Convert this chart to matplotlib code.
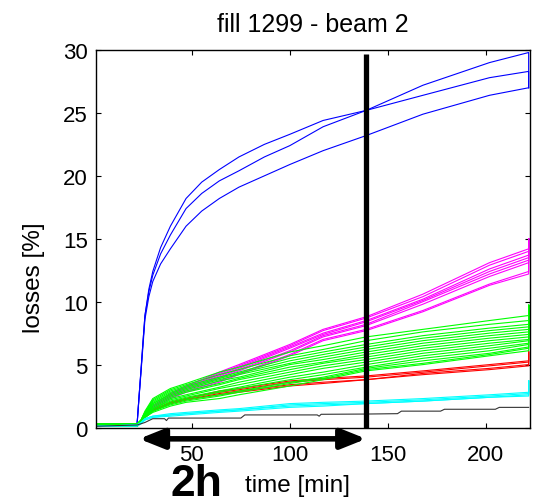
"""
Losses vs time for fill 1299, beam 2 (per collimator family).
"""

import matplotlib.pyplot as plt
from matplotlib.transforms import blended_transform_factory

plt.rcParams['font.family'] = ['Liberation Sans', 'DejaVu Sans']

# blue curves have their own, finer time base (fast ramp)
T_BLUE = [1, 22, 23, 24, 25, 26, 28, 30, 34, 39, 47, 55, 64, 74, 87, 100,
          117, 139, 168, 202, 222, 222]
BLUE = [
    [0.3, 0.3, 2.5, 4.6, 6.8, 8.9, 11.0, 12.4, 14.3, 16.0, 18.2, 19.5, 20.5,
     21.5, 22.5, 23.3, 24.4, 25.2, 26.4, 27.8, 28.3, 27.0],
    [0.3, 0.3, 2.5, 4.6, 6.8, 8.9, 10.8, 12.1, 13.8, 15.3, 17.4, 18.6, 19.6,
     20.4, 21.5, 22.4, 23.9, 25.2, 27.2, 29.0, 29.8, 27.0],
    [0.3, 0.3, 2.4, 4.4, 6.5, 8.6, 10.4, 11.6, 13.0, 14.2, 16.0, 17.2, 18.2,
     19.1, 20.0, 20.9, 22.0, 23.2, 24.9, 26.4, 27.0, 27.0],
]

# common time grid [min] for the slower families; last point repeated for the end jump
T = [1, 22, 24, 26, 30, 39, 47, 64, 74, 100, 117, 139, 168, 202, 222, 222]

MAGENTA = [
    [0.1, 0.2, 0.5, 1.0, 1.7, 2.7, 3.3, 4.4, 5.0, 6.6, 7.8, 8.8, 10.6, 13.1, 14.2, 15.0],
    [0.1, 0.2, 0.5, 1.0, 1.7, 2.7, 3.3, 4.3, 4.9, 6.5, 7.7, 8.7, 10.4, 12.9, 14.0, 15.0],
    [0.1, 0.2, 0.5, 1.0, 1.6, 2.6, 3.2, 4.2, 4.8, 6.4, 7.5, 8.5, 10.2, 12.6, 13.7, 15.0],
    [0.1, 0.2, 0.5, 1.0, 1.6, 2.6, 3.2, 4.1, 4.7, 6.3, 7.4, 8.4, 10.1, 12.4, 13.5, 15.0],
    [0.1, 0.2, 0.5, 0.9, 1.6, 2.5, 3.1, 4.0, 4.6, 6.1, 7.3, 8.2, 10.0, 12.2, 13.3, 15.0],
    [0.1, 0.2, 0.5, 0.9, 1.5, 2.5, 3.0, 3.9, 4.5, 6.0, 7.2, 8.1, 9.8, 12.0, 13.1, 15.0],
    [0.1, 0.1, 0.4, 0.9, 1.5, 2.4, 2.9, 3.7, 4.3, 5.8, 7.0, 7.8, 9.3, 11.4, 12.4, 15.0],
    [0.1, 0.1, 0.4, 0.9, 1.4, 2.3, 2.8, 3.6, 4.2, 5.7, 6.9, 7.7, 9.2, 11.3, 12.2, 15.0],
]

RED = [
    [0.1, 0.2, 0.4, 0.9, 1.4, 2.0, 2.3, 2.9, 3.1, 3.7, 3.9, 4.1, 4.5, 5.0, 5.3, 6.0],
    [0.1, 0.2, 0.4, 0.9, 1.4, 2.0, 2.3, 2.8, 3.0, 3.6, 3.8, 4.0, 4.4, 4.9, 5.2, 6.0],
    [0.1, 0.1, 0.4, 0.8, 1.3, 1.9, 2.2, 2.7, 2.9, 3.4, 3.6, 3.8, 4.3, 4.7, 5.0, 6.0],
    [0.1, 0.1, 0.4, 0.8, 1.3, 1.9, 2.2, 2.6, 2.8, 3.3, 3.5, 3.8, 4.2, 4.6, 4.9, 6.0],
]

GREEN = [
    [0.3, 0.3, 0.6, 1.3, 2.3, 3.1, 3.5, 4.4, 4.8, 6.0, 6.5, 7.2, 7.8, 8.5, 8.9, 9.7],
    [0.3, 0.3, 0.6, 1.2, 2.2, 3.0, 3.4, 4.2, 4.6, 5.7, 6.2, 6.9, 7.6, 8.2, 8.5, 9.7],
    [0.2, 0.3, 0.6, 1.2, 2.1, 2.9, 3.3, 4.0, 4.4, 5.5, 6.0, 6.6, 7.3, 7.9, 8.2, 9.7],
    [0.2, 0.2, 0.5, 1.1, 2.0, 2.8, 3.2, 3.9, 4.3, 5.3, 5.8, 6.4, 7.1, 7.7, 8.0, 9.7],
    [0.2, 0.2, 0.5, 1.1, 1.9, 2.7, 3.1, 3.8, 4.2, 5.1, 5.6, 6.2, 6.9, 7.5, 7.8, 9.7],
    [0.2, 0.2, 0.5, 1.1, 1.9, 2.6, 3.0, 3.7, 4.0, 5.0, 5.4, 6.0, 6.7, 7.3, 7.6, 9.7],
    [0.2, 0.2, 0.5, 1.0, 1.8, 2.5, 2.9, 3.5, 3.9, 4.8, 5.2, 5.8, 6.5, 7.1, 7.4, 9.7],
    [0.2, 0.2, 0.5, 1.0, 1.7, 2.4, 2.8, 3.4, 3.8, 4.6, 5.1, 5.6, 6.3, 6.9, 7.2, 9.7],
    [0.2, 0.2, 0.5, 1.0, 1.6, 2.3, 2.6, 3.2, 3.6, 4.4, 4.9, 5.4, 6.1, 6.7, 7.0, 9.7],
    [0.1, 0.2, 0.4, 0.9, 1.5, 2.2, 2.5, 3.1, 3.4, 4.2, 4.7, 5.2, 5.9, 6.5, 6.9, 9.7],
    [0.1, 0.2, 0.4, 0.9, 1.5, 2.1, 2.4, 2.9, 3.2, 4.0, 4.4, 5.0, 5.7, 6.3, 6.7, 9.7],
    [0.1, 0.1, 0.4, 0.9, 1.4, 2.0, 2.3, 2.8, 3.1, 3.8, 4.2, 4.8, 5.5, 6.1, 6.6, 9.7],
    [0.1, 0.1, 0.4, 0.8, 1.3, 1.9, 2.2, 2.6, 2.9, 3.6, 4.0, 4.7, 5.3, 5.9, 6.4, 9.7],
    [0.1, 0.1, 0.4, 0.8, 1.3, 1.8, 2.1, 2.5, 2.8, 3.5, 3.9, 4.6, 5.1, 5.8, 6.3, 9.7],
    [0.1, 0.1, 0.4, 0.8, 1.2, 1.7, 2.0, 2.3, 2.6, 3.3, 3.8, 4.5, 5.0, 5.7, 6.1, 9.7],
]

CYAN = [
    [0.1, 0.2, 0.4, 0.7, 0.9, 1.1, 1.2, 1.4, 1.5, 1.9, 2.0, 2.1, 2.3, 2.6, 2.8, 3.7],
    [0.1, 0.2, 0.4, 0.7, 0.9, 1.0, 1.1, 1.3, 1.4, 1.8, 1.9, 2.0, 2.2, 2.5, 2.7, 3.7],
    [0.1, 0.2, 0.3, 0.6, 0.8, 1.0, 1.1, 1.3, 1.4, 1.7, 1.8, 1.9, 2.1, 2.4, 2.6, 3.7],
    [0.1, 0.1, 0.3, 0.6, 0.8, 0.9, 1.0, 1.2, 1.3, 1.6, 1.7, 1.9, 2.1, 2.4, 2.5, 3.7],
]

# black (other) losses, own time base
T_BLACK = [1, 22, 26, 30, 36, 37, 38, 64, 75, 77, 114, 115, 116, 139, 155,
           157, 177, 179, 205, 207, 222]
V_BLACK = [0.1, 0.2, 0.4, 0.7, 0.7, 0.55, 0.75, 0.75, 0.75, 1.0, 1.0, 0.9,
           1.05, 1.07, 1.1, 1.3, 1.3, 1.45, 1.45, 1.6, 1.6]

MARK_T = 139      # end of 2h window
MARK_TOP = 29.7
ARROW_T0 = 23     # start of ramp


def main():
    fig = plt.figure(figsize=(5.43, 5.02), dpi=100)
    ax = fig.add_axes([0.1768, 0.1464, 0.7993, 0.752])

    for vals in BLUE:
        ax.plot(T_BLUE, vals, color='#0000ff', lw=0.8)
    for vals in MAGENTA:
        ax.plot(T, vals, color='#ff00ff', lw=0.8)
    for vals in RED:
        ax.plot(T, vals, color='#ff0000', lw=0.8)
    for vals in GREEN:
        ax.plot(T, vals, color='#00ff00', lw=0.8)
    for vals in CYAN:
        ax.plot(T, vals, color='#00ffff', lw=0.8)
    ax.plot(T_BLACK, V_BLACK, color='#333333', lw=0.8)

    # thick marker line at the 2h point
    ax.plot([MARK_T, MARK_T], [0, MARK_TOP], color='black', lw=3.8,
            solid_capstyle='butt', clip_on=False)

    ax.set_xlim(1, 222.7)
    ax.set_ylim(0, 30)
    ax.set_xticks([50, 100, 150, 200])
    ax.set_yticks(range(0, 31, 5))
    ax.tick_params(direction='in', length=3.5, top=True, right=True,
                   labelsize=16)
    ax.tick_params(axis='x', pad=12)
    ax.tick_params(axis='y', pad=6)
    for sp in ax.spines.values():
        sp.set_linewidth(1.0)

    ax.set_title('fill 1299 - beam 2', fontsize=18, pad=14)
    ax.set_xlabel('time [min]', fontsize=17.5)
    ax.xaxis.set_label_coords(0.465, -0.122)
    ax.set_ylabel('losses [%]', fontsize=17.5)
    ax.yaxis.set_label_coords(-0.118, 0.4)

    # 2h double arrow below the axis
    trans = blended_transform_factory(ax.transData, ax.transAxes)
    ax.annotate('', xy=(MARK_T, -0.03), xytext=(ARROW_T0, -0.03),
                xycoords=trans, textcoords=trans, annotation_clip=False,
                arrowprops=dict(arrowstyle='<|-|>,head_length=1.5,head_width=0.6',
                                mutation_scale=10, lw=4, color='black',
                                shrinkA=0, shrinkB=0))
    fig.text(196 / 543, 6 / 502, '2h', fontsize=32, fontweight='bold',
             ha='center', va='baseline')

    fig.savefig('out.png', dpi=100)


if __name__ == '__main__':
    main()
